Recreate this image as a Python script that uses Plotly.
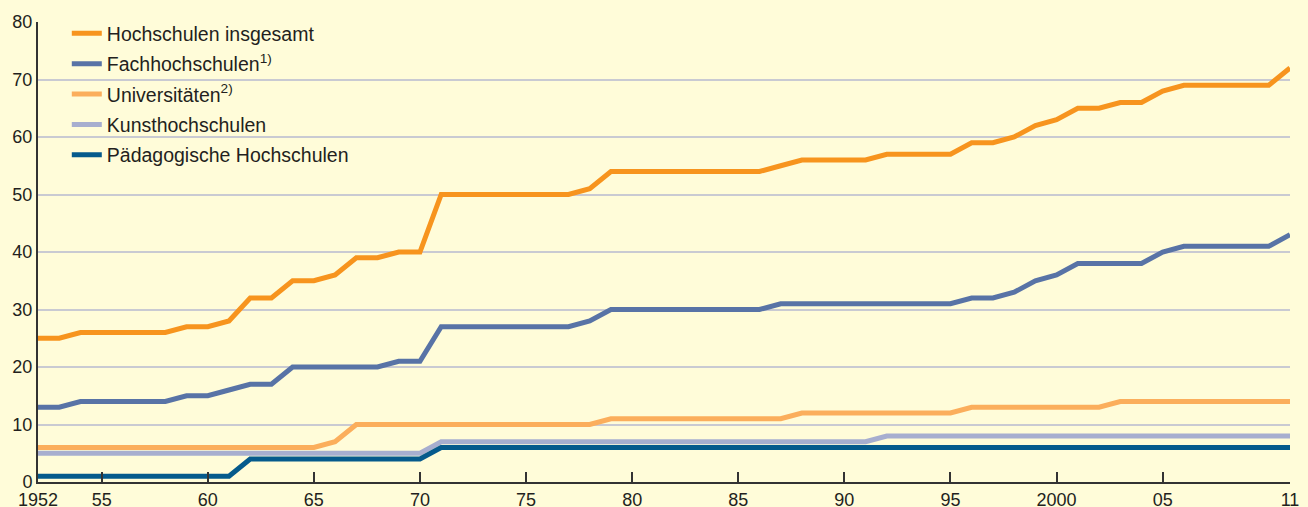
import plotly.graph_objects as go

years = list(range(1952, 2012))

hochschulen_insgesamt = [25, 25, 26, 26, 26, 26, 26, 27, 27, 28,   # 1952-1961
                         32, 32, 35, 35, 36, 39, 39, 40, 40, 50,   # 1962-1971
                         50, 50, 50, 50, 50, 50, 51, 54, 54, 54,   # 1972-1981
                         54, 54, 54, 54, 54, 55, 56, 56, 56, 56,   # 1982-1991
                         57, 57, 57, 57, 59, 59, 60, 62, 63, 65,   # 1992-2001
                         65, 66, 66, 68, 69, 69, 69, 69, 69, 72]   # 2002-2011
fachhochschulen = [13, 13, 14, 14, 14, 14, 14, 15, 15, 16,
                   17, 17, 20, 20, 20, 20, 20, 21, 21, 27,
                   27, 27, 27, 27, 27, 27, 28, 30, 30, 30,
                   30, 30, 30, 30, 30, 31, 31, 31, 31, 31,
                   31, 31, 31, 31, 32, 32, 33, 35, 36, 38,
                   38, 38, 38, 40, 41, 41, 41, 41, 41, 43]
universitaeten = [6, 6, 6, 6, 6, 6, 6, 6, 6, 6,
                  6, 6, 6, 6, 7, 10, 10, 10, 10, 10,
                  10, 10, 10, 10, 10, 10, 10, 11, 11, 11,
                  11, 11, 11, 11, 11, 11, 12, 12, 12, 12,
                  12, 12, 12, 12, 13, 13, 13, 13, 13, 13,
                  13, 14, 14, 14, 14, 14, 14, 14, 14, 14]
kunsthochschulen = [5, 5, 5, 5, 5, 5, 5, 5, 5, 5,
                    5, 5, 5, 5, 5, 5, 5, 5, 5, 7,
                    7, 7, 7, 7, 7, 7, 7, 7, 7, 7,
                    7, 7, 7, 7, 7, 7, 7, 7, 7, 7,
                    8, 8, 8, 8, 8, 8, 8, 8, 8, 8,
                    8, 8, 8, 8, 8, 8, 8, 8, 8, 8]
paedagogische = [1, 1, 1, 1, 1, 1, 1, 1, 1, 1,
                 4, 4, 4, 4, 4, 4, 4, 4, 4, 6,
                 6, 6, 6, 6, 6, 6, 6, 6, 6, 6,
                 6, 6, 6, 6, 6, 6, 6, 6, 6, 6,
                 6, 6, 6, 6, 6, 6, 6, 6, 6, 6,
                 6, 6, 6, 6, 6, 6, 6, 6, 6, 6]

series_names = ["Hochschulen insgesamt", "Fachhochschulen<sup>1)</sup>",
                "Universitäten<sup>2)</sup>", "Kunsthochschulen",
                "Pädagogische Hochschulen"]
series_values = [hochschulen_insgesamt, fachhochschulen, universitaeten,
                 kunsthochschulen, paedagogische]
series_colors = ["#F7941E", "#5873A6", "#FBAE5C", "#A7AECF", "#055A8C"]

x_tickvals = [1952, 1955, 1960, 1965, 1970, 1975, 1980, 1985, 1990, 1995, 2000, 2005, 2011]
x_ticktext = ["1952", "55", "60", "65", "70", "75", "80", "85", "90", "95", "2000", "05", "11"]
y_tickvals = [0, 10, 20, 30, 40, 50, 60, 70, 80]

fig = go.Figure()
for i, (name, vals, col) in enumerate(zip(series_names, series_values, series_colors)):
    fig.add_trace(go.Scatter(x=years, y=vals, mode="lines", name=name,
                             line=dict(color=col, width=5), legendgroup=str(i)))

bg = "#FFFCD9"
fig.update_layout(
    width=1308, height=507,
    paper_bgcolor=bg, plot_bgcolor=bg,
    margin=dict(l=38, r=18, t=22, b=25),
    font=dict(family="Liberation Sans, Arial, sans-serif", size=18, color="#231F20"),
    showlegend=True,
    legend=dict(x=0.023, y=1.017, xanchor="left", yanchor="top",
                bgcolor="rgba(0,0,0,0)", tracegroupgap=2,
                font=dict(size=19.5), itemwidth=30),
    xaxis=dict(range=[1952, 2011], tickvals=x_tickvals, ticktext=x_ticktext,
               showgrid=False, zeroline=False, showline=True, linecolor="#333333",
               linewidth=2, ticks="inside", ticklen=10, tickcolor="#333333",
               tickwidth=1.5, tickfont=dict(size=18), automargin=False),
    yaxis=dict(range=[0, 80], tickvals=y_tickvals, showgrid=True,
               gridcolor="#C9CAD2", gridwidth=1.5, zeroline=False, showline=True,
               linecolor="#333333", linewidth=2, ticks="", tickfont=dict(size=18),
               automargin=False),
)

fig.write_html("out.html",
               config={"displayModeBar": False},
               post_script="document.body.style.margin='0';"
                           "document.body.style.background='" + bg + "';"
                           "document.body.style.overflow='hidden';")
